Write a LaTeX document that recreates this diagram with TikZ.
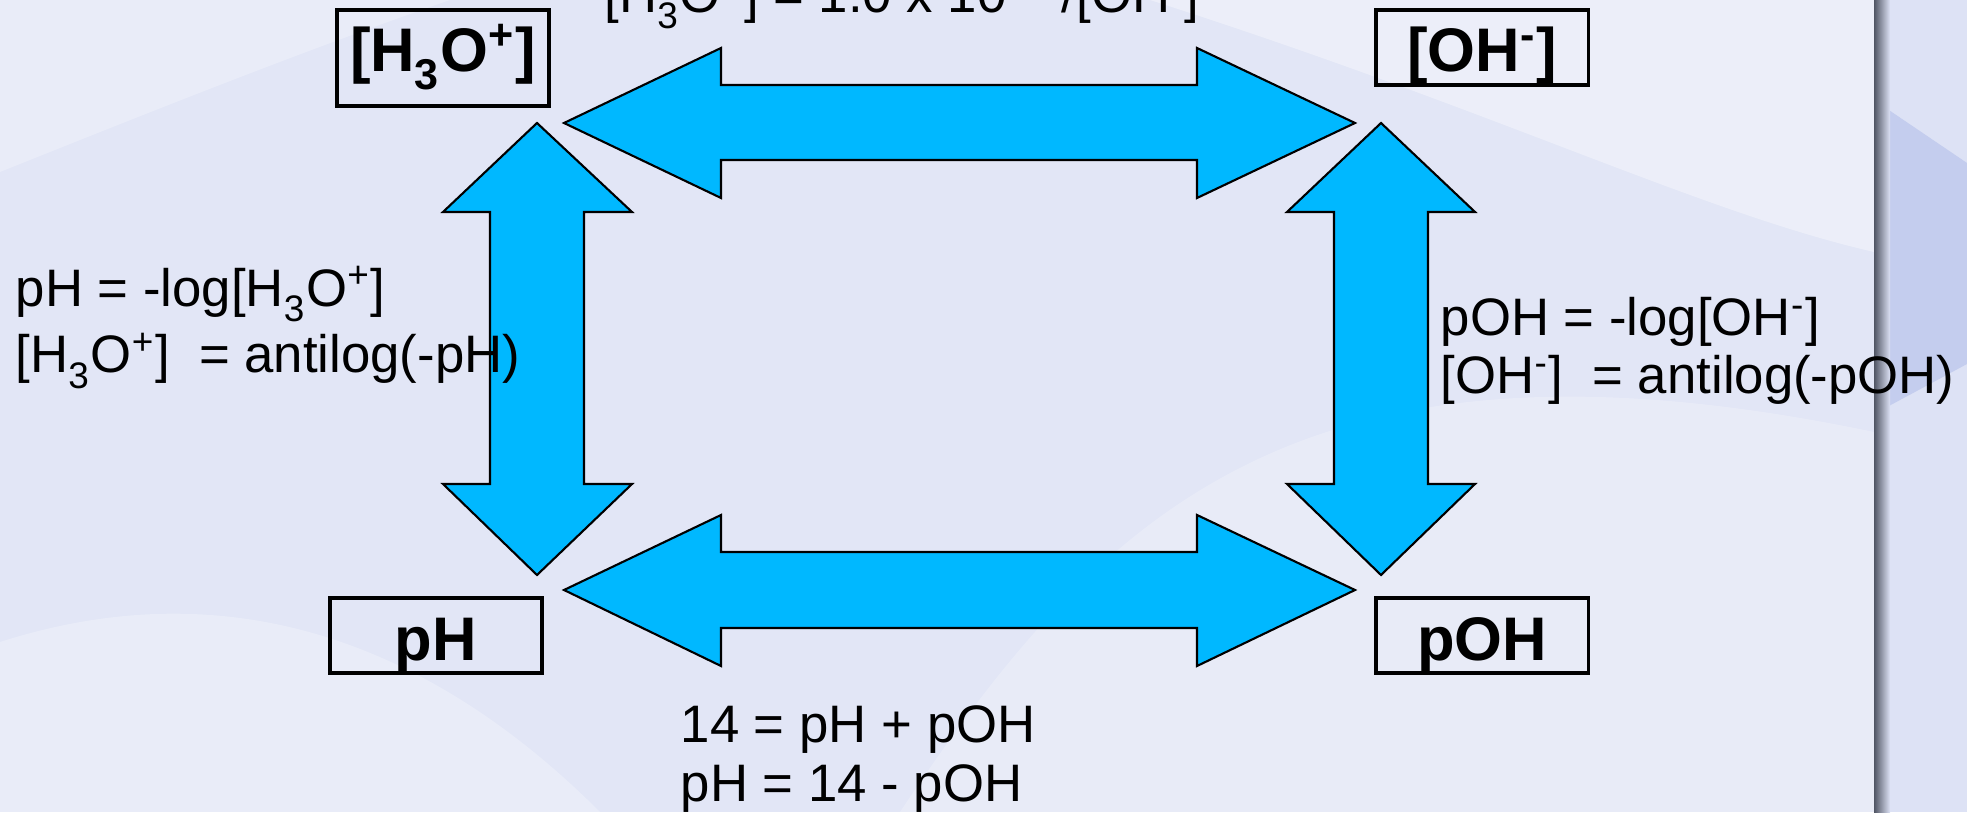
\documentclass[tikz,border=0pt]{standalone}
\usepackage{fontspec}
\setmainfont{Liberation Sans}
\usetikzlibrary{positioning}

\definecolor{bgbase}{RGB}{226,230,246}
\definecolor{panelblue}{RGB}{221,226,245}
\definecolor{bandblue}{RGB}{196,205,238}
\definecolor{shadowdark}{RGB}{80,85,100}
\definecolor{arrowblue}{RGB}{0,184,255}

% lowered subscript, as in the slide
\newcommand{\chemsub}[1]{\raisebox{-0.13em}{\textsubscript{#1}}}

\begin{document}
\begin{tikzpicture}[
    x=0.01cm, y=0.01cm,
    box/.style={
        draw,
        line width=0.9pt,
        inner sep=0pt,
        minimum width=2.12cm,
        text height=0.62cm,
        text depth=0.13cm,
        anchor=base,
        font=\fontsize{17.5}{20}\selectfont\bfseries
    },
    eq/.style={
        anchor=base west,
        align=left,
        inner sep=0pt,
        font=\fontsize{15}{16.5}\selectfont
    },
    bigarrow/.style={fill=arrowblue, draw=black, line width=0.6pt}
]
\useasboundingbox (0,0) rectangle (1967,812);

% background
\fill[bgbase] (0,0) rectangle (1967,812);
\fill[white, opacity=0.35] (1150,812) .. controls (1500,700) and (1700,600) .. (1874,560) -- (1874,812) -- cycle;
\fill[white, opacity=0.25] (0,0) -- (0,170) .. controls (250,250) and (450,150) .. (600,0) -- cycle;
\fill[white, opacity=0.22] (900,0) .. controls (1100,300) and (1300,500) .. (1874,380) -- (1874,0) -- cycle;
\fill[white, opacity=0.25] (0,812) -- (0,640) .. controls (150,700) and (300,760) .. (450,812) -- cycle;
\fill[panelblue] (1874,0) rectangle (1967,812);
\fill[bandblue] (1874,712) -- (1967,649) -- (1967,448) -- (1874,398) -- cycle;
\shade[left color=shadowdark, right color=panelblue] (1874,0) rectangle (1890,812);

% arrows
\draw[bigarrow] (564,689) -- (721,764) -- (721,727) -- (1197,727) -- (1197,764) -- (1355,689)
    -- (1197,614) -- (1197,652) -- (721,652) -- (721,614) -- cycle;
\draw[bigarrow] (564,222) -- (721,297) -- (721,260) -- (1197,260) -- (1197,297) -- (1355,222)
    -- (1197,146) -- (1197,184) -- (721,184) -- (721,146) -- cycle;
\draw[bigarrow] (537,689) -- (632,600) -- (584,600) -- (584,328) -- (632,328) -- (537,237)
    -- (443,328) -- (490,328) -- (490,600) -- (443,600) -- cycle;
\draw[bigarrow] (1381,689) -- (1475,600) -- (1428,600) -- (1428,328) -- (1475,328) -- (1381,237)
    -- (1287,328) -- (1334,328) -- (1334,600) -- (1287,600) -- cycle;

% boxes
\node[box, text depth=0.34cm] (h3o) at (443,740) {[H\chemsub{3}O\textsuperscript{+}]};
\node[box] (oh) at (1482,740) {[OH\textsuperscript{-}]};
\node[box] (ph) at (436,152) {pH};
\node[box] (poh) at (1482,152) {pOH};

% relations
\node[eq] (eqtop) at (604,799) {[H\chemsub{3}O\textsuperscript{+}] = 1.0 x 10\textsuperscript{-14}/[OH\textsuperscript{-}]};
\node[eq, font=\fontsize{15}{19}\selectfont] (eqleft) at (15,439)
    {pH = -log[H\chemsub{3}O\textsuperscript{+}]\\{}[H\chemsub{3}O\textsuperscript{+}]\ \ = antilog(-pH)};
\node[eq] (eqright) at (1440,418)
    {pOH = -log[OH\textsuperscript{-}]\\{}[OH\textsuperscript{-}]\ \ = antilog(-pOH)};
\node[eq] (eqbottom) at (680,11) {14 = pH + pOH\\pH = 14 - pOH};

\end{tikzpicture}
\end{document}
